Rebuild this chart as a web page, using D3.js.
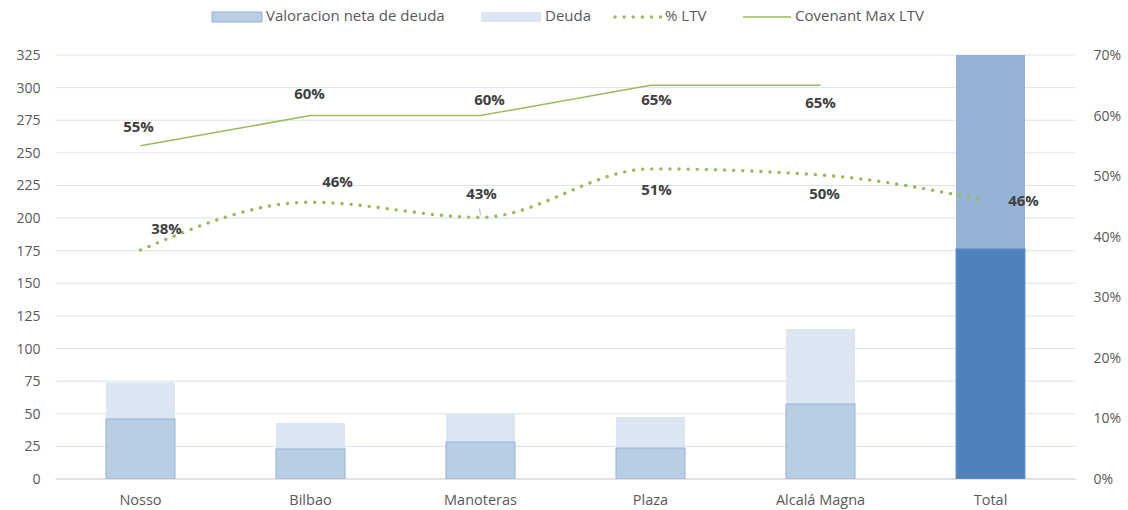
<!DOCTYPE html>
<html><head><meta charset="utf-8">
<script src="https://cdn.jsdelivr.net/npm/d3@7"></script>
<style>body{margin:0;background:#fff}svg{display:block}text{font-family:"Open Sans","Noto Sans",sans-serif}</style>
</head><body><svg id="c" width="1128" height="510"></svg>
<script>
const categories = ["Nosso","Bilbao","Manoteras","Plaza","Alcalá Magna","Total"];
const valoracionNeta = [46, 23, 28.4, 23.7, 57.5, 176.5];
const deuda = [28, 20, 21.4, 23.8, 57.5, 153];
const ltv = [0.378, 0.457, 0.432, 0.512, 0.502, 0.46];
const covenant = [0.55, 0.60, 0.60, 0.65, 0.65];
const leftTicks = [0,25,50,75,100,125,150,175,200,225,250,275,300,325];
const rightTicks = [0,0.1,0.2,0.3,0.4,0.5,0.6,0.7];
const seriesNames = ["Valoracion neta de deuda","Deuda","% LTV","Covenant Max LTV"];

const svg = d3.select("#c");
const m = {l:55.5, r:52.5, t:55, b:31};
const W = 1128, H = 510;
const x = d3.scaleBand().domain(categories).range([m.l, W-m.r]).paddingInner(0.594).paddingOuter(0.297);
const y = d3.scaleLinear().domain([0,325]).range([H-m.b, m.t]);
const y2 = d3.scaleLinear().domain([0,0.7]).range([H-m.b, m.t]);
const cx = c => x(c) + x.bandwidth()/2;

// grid
svg.append("g").selectAll("line").data(leftTicks.slice(1)).join("line")
  .attr("x1", m.l).attr("x2", W-m.r).attr("y1", d=>y(d)).attr("y2", d=>y(d))
  .attr("stroke","#D9E2EF").attr("stroke-width",1);
svg.append("line").attr("x1",m.l).attr("x2",W-m.r).attr("y1",y(0)).attr("y2",y(0))
  .attr("stroke","#D9D9D9").attr("stroke-width",1.5);

// axes
const axL = svg.append("g").attr("transform",`translate(${m.l},0)`)
  .call(d3.axisLeft(y).tickValues(leftTicks).tickSize(0).tickPadding(15));
const axR = svg.append("g").attr("transform",`translate(${W-m.r},0)`)
  .call(d3.axisRight(y2).tickValues(rightTicks).tickSize(0).tickPadding(18).tickFormat(d3.format(".0%")));
const axB = svg.append("g").attr("transform",`translate(0,${H-m.b})`)
  .call(d3.axisBottom(x).tickSize(0).tickPadding(16));
[axL,axR,axB].forEach(a=>{a.select(".domain").remove();
  a.selectAll("text").attr("fill","#595959").style("font-size","14px").style("font-family",'"Open Sans",sans-serif');});
axB.selectAll("text").style("font-size","14.5px");

// bars (clipped to plot)
svg.append("clipPath").attr("id","pc").append("rect").attr("x",0).attr("y",m.t).attr("width",W).attr("height",H-m.b-m.t);
const bars = svg.append("g").attr("clip-path","url(#pc)");
const isTot = i => i === categories.length-1;
bars.selectAll("rect.d").data(categories).join("rect").attr("class","d")
  .attr("x", c=>x(c)).attr("width", x.bandwidth())
  .attr("y", (c,i)=>y(valoracionNeta[i]+deuda[i]))
  .attr("height", (c,i)=>y(valoracionNeta[i]) - y(valoracionNeta[i]+deuda[i]))
  .attr("fill", (c,i)=>isTot(i) ? "#95B3D7" : "#DCE6F2");
bars.selectAll("rect.v").data(categories).join("rect").attr("class","v")
  .attr("x", c=>x(c)).attr("width", x.bandwidth())
  .attr("y", (c,i)=>y(valoracionNeta[i]))
  .attr("height", (c,i)=>y(0)-y(valoracionNeta[i]))
  .attr("fill", (c,i)=>isTot(i) ? "#4F81BD" : "#B9CDE5")
  .attr("stroke", (c,i)=>isTot(i) ? "#6E97C8" : "#95B3D7").attr("stroke-width",1);

// covenant line
const covPts = covenant.map((v,i)=>[cx(categories[i]), y2(v)]);
svg.append("path").attr("d", d3.line()(covPts)).attr("fill","none")
  .attr("stroke","#9BBB59").attr("stroke-width",1.5);

// ltv dotted smooth line
const ltvPts = ltv.map((v,i)=>[cx(categories[i]), y2(v)]);
svg.append("path").attr("d", d3.line().curve(d3.curveMonotoneX)(ltvPts.map((p,i)=>i===ltvPts.length-1?[p[0]-5,p[1]]:p))).attr("fill","none")
  .attr("stroke","#9BBB59").attr("stroke-width",3.4).attr("stroke-linecap","round")
  .attr("stroke-dasharray","0.1 9");

// labels
const fmt = d3.format(".0%");
const lbl = (px,py,t)=>svg.append("text").attr("x",px).attr("y",py).attr("text-anchor","middle")
  .attr("dominant-baseline","middle").attr("fill","#404040").style("font-size","15px").style("font-weight","bold").text(t);
const covOff = [[-2,-18],[-1,-21],[9,-15],[6,16],[0,19]];
covPts.forEach((p,i)=>lbl(p[0]+covOff[i][0], p[1]+covOff[i][1], fmt(covenant[i])));
const ltvOff = [[26,-20],[27,-19],[1,-22],[6,22],[4,20],[33,2]];
ltvPts.forEach((p,i)=>lbl(p[0]+ltvOff[i][0], p[1]+ltvOff[i][1], fmt(ltv[i])));
// leader for Manoteras
svg.append("line").attr("x1",ltvPts[2][0]).attr("x2",ltvPts[2][0]-1).attr("y1",ltvPts[2][1]-2).attr("y2",ltvPts[2][1]-9)
  .attr("stroke","#A6A6A6").attr("stroke-width",0.8);

// legend
const lg = svg.append("g").style("font-size","15px");
const items = [
  {x:212, w:50, type:"rect", fill:"#B9CDE5", stroke:"#95B3D7"},
  {x:481, w:60, type:"rect", fill:"#DCE6F2", stroke:"none"},
  {x:613, w:48, type:"dots"},
  {x:743, w:48, type:"line"}
];
items.forEach((it,i)=>{
  if(it.type==="rect") lg.append("rect").attr("x",it.x).attr("y",12).attr("width",it.w).attr("height",10).attr("fill",it.fill).attr("stroke",it.stroke);
  else if(it.type==="dots") lg.append("line").attr("x1",it.x+2).attr("x2",it.x+it.w).attr("y1",17).attr("y2",17)
     .attr("stroke","#9BBB59").attr("stroke-width",3.4).attr("stroke-linecap","round").attr("stroke-dasharray","0.1 9");
  else lg.append("line").attr("x1",it.x).attr("x2",it.x+it.w).attr("y1",17).attr("y2",17).attr("stroke","#9BBB59").attr("stroke-width",1.5);
  lg.append("text").attr("x",it.x+it.w+4).attr("y",17).attr("dominant-baseline","middle").attr("fill","#595959").text(seriesNames[i]);
});
</script></body></html>
